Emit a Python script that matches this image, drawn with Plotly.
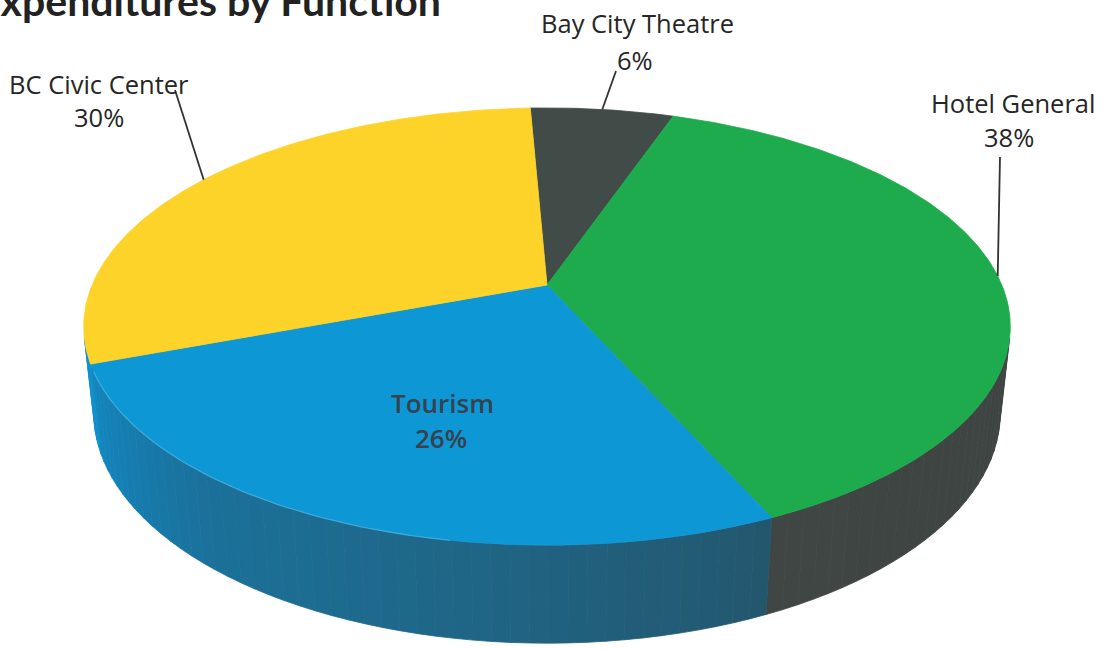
import numpy as np
import plotly.graph_objects as go

# ---------------- data ----------------
labels = ["Bay City Theatre", "Hotel General", "Tourism", "BC Civic Center"]
percents = [6, 38, 26, 30]
pct_text = ["6%", "38%", "26%", "30%"]
title_text = "Expenditures by Function"

# ---------------- style ----------------
top_colors = ["#414b47", "#1eab4d", "#0e97d5", "#fed329"]
wall_stops = [
    [(0, "#3e4643"), (360, "#3e4643")],
    [(100, "#3e4442"), (160, "#404644")],
    [(150, "#245469"), (190, "#1f6687"), (220, "#1b719a"), (240, "#1580b5"), (260, "#0f8fcc")],
    [(240, "#0f8fcc"), (270, "#0f8fcc")],
]
W, H_PX = 1103, 649
CX, CY = 547.0, 285.0          # screen position of pie centre
F = 2122.0                     # focal scale
D = 4.665                      # camera distance (radius units)
ELEV = np.radians(27.6)        # camera elevation
THICK = 0.216                  # pie thickness (radius units)
START = -2.5                   # first slice start angle (deg, clockwise from back)


def proj(theta_deg, r=1.0, z=0.0):
    t = np.radians(np.asarray(theta_deg, dtype=float))
    X = r * np.sin(t)
    Y = r * np.cos(t)
    depth = Y * np.cos(ELEV) - z * np.sin(ELEV) + D
    up = Y * np.sin(ELEV) + z * np.cos(ELEV)
    return CX + F * X / depth, CY - F * up / depth


def hex2rgb(h):
    h = h.lstrip("#")
    return np.array([int(h[i:i + 2], 16) for i in (0, 2, 4)], dtype=float)


def stop_color(stops, th):
    angs = [s[0] for s in stops]
    cols = [hex2rgb(s[1]) for s in stops]
    if th <= angs[0]:
        c = cols[0]
    elif th >= angs[-1]:
        c = cols[-1]
    else:
        for i in range(len(angs) - 1):
            if angs[i] <= th <= angs[i + 1]:
                f = (th - angs[i]) / (angs[i + 1] - angs[i])
                c = cols[i] + f * (cols[i + 1] - cols[i])
                break
    return "rgb(%d,%d,%d)" % tuple(np.round(c).astype(int))


# slice boundaries from the data
total = float(sum(percents))
bounds = [START]
for p in percents:
    bounds.append(bounds[-1] + 360.0 * p / total)

# visible outer-wall range
vis = np.degrees(np.arccos(-1.0 / (D * np.cos(ELEV))))
v0, v1 = vis, 360.0 - vis

fig = go.Figure()

# ---- outer walls (drawn first) ----
for i in range(len(percents)):
    a0, a1 = bounds[i], bounds[i + 1]
    lo, hi = max(a0, v0), min(a1, v1)
    if hi <= lo:
        continue
    nseg = max(1, int(np.ceil((hi - lo) / 2.0)))
    edges = np.linspace(lo, hi, nseg + 1)
    for k in range(nseg):
        th = np.linspace(edges[k], edges[k + 1], 6)
        tx, ty = proj(th, 1.0, 0.0)
        bx, by = proj(th[::-1], 1.0, -THICK)
        col = stop_color(wall_stops[i], 0.5 * (edges[k] + edges[k + 1]))
        fig.add_trace(go.Scatter(
            x=np.concatenate([tx, bx, tx[:1]]), y=np.concatenate([ty, by, ty[:1]]),
            mode="lines", fill="toself", fillcolor=col,
            line=dict(color=col, width=0.8), hoverinfo="skip"))

# ---- top faces ----
for i in range(len(percents)):
    a0, a1 = bounds[i], bounds[i + 1]
    th = np.linspace(a0, a1, max(8, int((a1 - a0) * 2)))
    ax, ay = proj(th)
    x = np.concatenate([[CX], ax, [CX]])
    y = np.concatenate([[CY], ay, [CY]])
    fig.add_trace(go.Scatter(
        x=x, y=y, mode="lines", fill="toself", fillcolor=top_colors[i],
        line=dict(color=top_colors[i], width=0.8), name=labels[i],
        hoverinfo="skip"))

# subtle highlight along the front-left rim of the blue slice
th = np.linspace(190, bounds[3] - 2, 60)
hx, hy = proj(th)
fig.add_trace(go.Scatter(x=hx, y=hy, mode="lines",
                         line=dict(color="rgba(110,195,235,0.45)", width=1.3),
                         hoverinfo="skip"))

# ---- leader lines (from slice mid-angle on the rim to the label) ----
label_anchor = {0: (616, 71), 1: (1000, 157), 3: (175, 90)}
for i, (lx, ly) in label_anchor.items():
    mid = 0.5 * (bounds[i] + bounds[i + 1])
    rx, ry = proj(mid)
    fig.add_trace(go.Scatter(x=[float(rx), lx], y=[float(ry), ly], mode="lines",
                             line=dict(color="#333333", width=1.8), hoverinfo="skip"))

# ---- labels ----
FONT = "Open Sans"
lab_pos = {
    0: ((637, 23), (635, 60)),
    1: ((1013, 103), (1009, 137)),
    3: ((99, 84), (99, 117)),
}
ann = []
for i, ((nx, ny), (px, py)) in lab_pos.items():
    ann.append(dict(x=nx, y=ny, text=labels[i], showarrow=False, xanchor="center",
                    yanchor="middle",
                    font=dict(family=FONT, size=25.5, color="#262626", weight=500)))
    ann.append(dict(x=px, y=py, text=pct_text[i], showarrow=False, xanchor="center",
                    yanchor="middle",
                    font=dict(family=FONT, size=25.5, color="#262626", weight=500)))
ann.append(dict(x=442, y=403, text=labels[2], showarrow=False, xanchor="center",
                yanchor="middle", font=dict(family=FONT, size=26, color="#36424e", weight=600)))
ann.append(dict(x=441, y=438, text=pct_text[2], showarrow=False, xanchor="center",
                yanchor="middle", font=dict(family=FONT, size=26, color="#36424e", weight=600)))
ann.append(dict(x=443, y=0, text="<b>" + title_text + "</b>", showarrow=False,
                xanchor="right", yanchor="middle",
                font=dict(family="Lato", size=41, color="#222222")))

fig.update_layout(
    width=W, height=H_PX, margin=dict(l=0, r=0, t=0, b=0),
    paper_bgcolor="white", plot_bgcolor="white", showlegend=False,
    xaxis=dict(range=[0, W], visible=False, fixedrange=True),
    yaxis=dict(range=[H_PX, 0], visible=False, fixedrange=True),
    annotations=ann,
)
fig.write_html("out.html")
